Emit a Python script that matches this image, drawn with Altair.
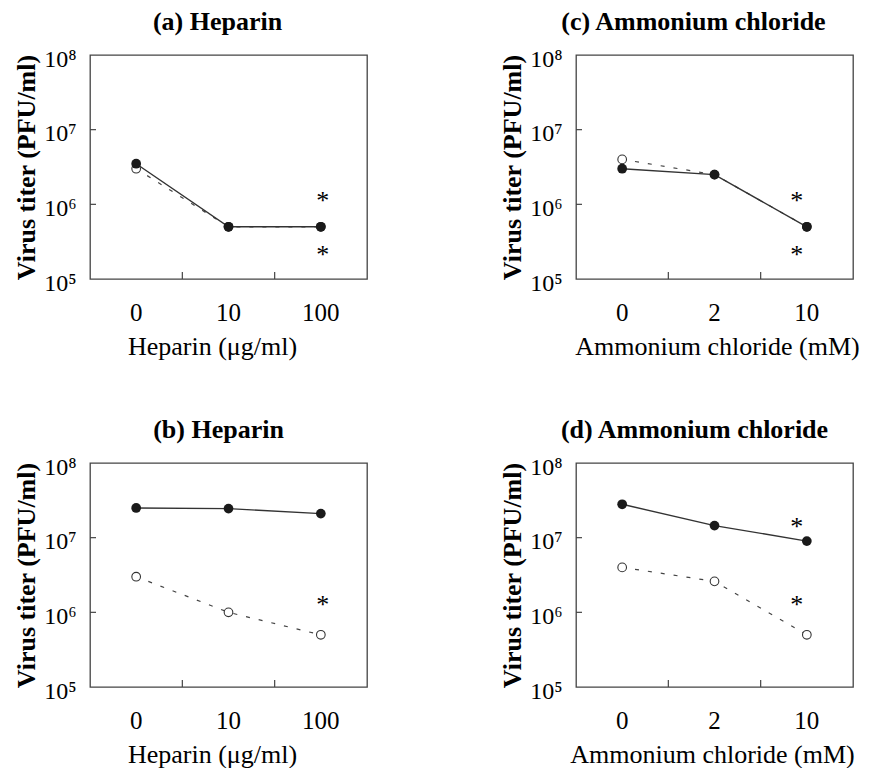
import altair as alt
import pandas as pd

FONT = "Liberation Serif"
W, H = 277, 224

# doses on the x axis
heparin_doses = ["0", "10", "100"]
nh4cl_doses = ["0", "2", "10"]

# virus titers (PFU/ml): solid series (filled circles) and dashed series (open circles)
a_filled = [3.5e6, 5.0e5, 5.0e5]
a_open = [3.0e6, 5.0e5, 5.0e5]
b_filled = [2.5e7, 2.45e7, 2.1e7]
b_open = [3.0e6, 1.0e6, 5.0e5]
c_filled = [3.0e6, 2.5e6, 5.0e5]
c_open = [4.0e6, 2.5e6, 5.0e5]
d_filled = [2.8e7, 1.45e7, 9.0e6]
d_open = [4.0e6, 2.6e6, 5.0e5]

# significance asterisks: dose and titer level where each is placed
a_star_doses = ["100", "100"]
a_star_titers = [1.4e6, 2.7e5]
b_star_doses = ["100"]
b_star_titers = [1.6e6]
c_star_doses = ["10", "10"]
c_star_titers = [1.4e6, 2.7e5]
d_star_doses = ["10", "10"]
d_star_titers = [1.8e7, 1.6e6]

y_tick_values = [1e5, 1e6, 1e7, 1e8]
y_tick_labels = ["10⁵", "10⁶", "10⁷", "10⁸"]
y_inner_ticks = [1e6, 1e7]

label_expr = "[" + ",".join("'%s'" % s for s in y_tick_labels) + "][round(log(datum.value) / LN10) - 5]"


def panel(title, doses, filled, opened, star_doses, star_titers, xtitle,
          title_dx, star_dx, xtitle_x):
    df_open = pd.DataFrame({"dose": doses, "titer": opened})
    df_fill = pd.DataFrame({"dose": doses, "titer": filled})
    df_star = pd.DataFrame({"dose": star_doses, "titer": star_titers})
    df_xt = pd.DataFrame({"dose": doses[1:]})
    df_yt = pd.DataFrame({"titer": y_inner_ticks})

    xscale = alt.Scale(type="band", domain=doses, paddingInner=0, paddingOuter=0)
    yscale = alt.Scale(type="log", domain=[1e5, 1e8])

    x_axis = alt.Axis(
        title=xtitle, labelAngle=0, ticks=False, domain=False, grid=False,
        labelFont=FONT, labelFontSize=25, labelColor="black", labelPadding=21,
        titleFont=FONT, titleFontSize=26, titleFontWeight="normal",
        titleColor="black", titlePadding=8, titleX=xtitle_x,
    )
    y_axis = alt.Axis(
        title="Virus titer (PFU/ml)", values=y_tick_values, labelExpr=label_expr,
        ticks=False, domain=False, grid=False, labelFlush=False, labelOverlap=False,
        labelFont=FONT, labelFontSize=24, labelColor="black", labelPadding=14,
        labelOffset=4,
        titleFont=FONT, titleFontSize=26, titleFontWeight="bold",
        titleColor="black", titlePadding=4,
    )
    x = alt.X("dose:N", scale=xscale, sort=doses, axis=x_axis)
    y = alt.Y("titer:Q", scale=yscale, axis=y_axis)

    open_line = alt.Chart(df_open).mark_line(
        color="#444", strokeWidth=1.2, strokeDash=[4, 9]
    ).encode(x=x, y=y)
    open_pts = alt.Chart(df_open).mark_point(
        shape="circle", filled=True, fill="white", stroke="#333",
        strokeWidth=1.1, size=75, opacity=1
    ).encode(x=x, y=y)
    fill_line = alt.Chart(df_fill).mark_line(
        color="#333", strokeWidth=1.4
    ).encode(x=x, y=y)
    fill_pts = alt.Chart(df_fill).mark_point(
        shape="circle", filled=True, color="#1a1a1a", size=95, opacity=1
    ).encode(x=x, y=y)
    stars = alt.Chart(df_star).mark_text(
        text="*", font=FONT, fontSize=26, color="black", dx=star_dx, dy=8
    ).encode(x=x, y=y)
    xticks = alt.Chart(df_xt).mark_rule(color="#444", strokeWidth=1.2).encode(
        x=alt.X("dose:N", scale=xscale, sort=doses, axis=x_axis, bandPosition=0),
        y=alt.value(H), y2=alt.value(H - 7),
    )
    yticks = alt.Chart(df_yt).mark_rule(color="#444", strokeWidth=1.2).encode(
        y=y, x=alt.value(0), x2=alt.value(6),
    )
    return alt.layer(
        xticks, yticks, open_line, fill_line, open_pts, fill_pts, stars
    ).properties(
        width=W, height=H,
        title=alt.TitleParams(
            title, font=FONT, fontSize=26, fontWeight="bold", color="black",
            anchor="middle", frame="group", dx=title_dx, offset=12,
        ),
    )


pa = panel("(a) Heparin", heparin_doses, a_filled, a_open, a_star_doses, a_star_titers,
           "Heparin (μg/ml)", -11, 2, 122)
pb = panel("(b) Heparin", heparin_doses, b_filled, b_open, b_star_doses, b_star_titers,
           "Heparin (μg/ml)", -10, 2, 122)
pc = panel("(c) Ammonium chloride", nh4cl_doses, c_filled, c_open, c_star_doses, c_star_titers,
           "Ammonium chloride (mM)", -21, -10, 141)
pd_ = panel("(d) Ammonium chloride", nh4cl_doses, d_filled, d_open, d_star_doses, d_star_titers,
            "Ammonium chloride (mM)", -20, -10, 136)

chart = alt.vconcat(
    alt.hconcat(pa, pc, spacing=130),
    alt.hconcat(pb, pd_, spacing=130),
    spacing=56,
).properties(
    padding={"left": 12, "top": 8, "right": 0, "bottom": 0},
    background="white",
).configure_view(
    stroke="#444", strokeWidth=1.3
)

chart.save("out.html", embed_options={"renderer": "svg", "actions": False})
